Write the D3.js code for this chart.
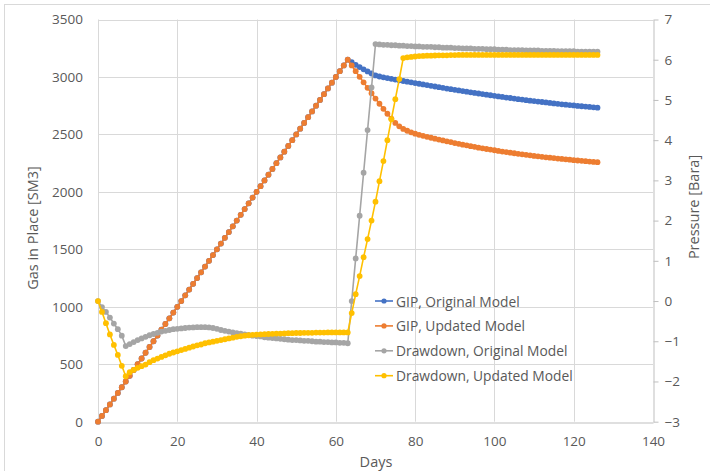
<!DOCTYPE html>
<html>
<head>
<meta charset="utf-8">
<script src="https://cdn.jsdelivr.net/npm/d3@7/dist/d3.min.js"></script>
<style>
  html, body { margin: 0; padding: 0; background: #fff; }
  svg { display: block; font-family: "Open Sans", "Liberation Sans", sans-serif; }
</style>
</head>
<body>
<svg id="chart" width="710" height="471"></svg>
<script>
// Day index shared by all four series
const days = d3.range(0, 127);

// Gas in place [SM3], original model
const gipOriginal = [
  0, 50, 100, 150, 200, 250, 300, 350, 400, 450,
  500, 550, 600, 650, 700, 750, 800, 850, 900, 950,
  1000, 1050, 1100, 1150, 1200, 1250, 1300, 1350, 1400, 1450,
  1500, 1550, 1600, 1650, 1700, 1750, 1800, 1850, 1900, 1950,
  2000, 2050, 2100, 2150, 2200, 2250, 2300, 2350, 2400, 2450,
  2500, 2550, 2600, 2650, 2700, 2750, 2800, 2850, 2900, 2950,
  3000, 3050, 3100, 3150, 3128, 3106, 3086, 3066, 3048, 3030,
  3013, 3004, 2997, 2990, 2984, 2977, 2971, 2965, 2959, 2953,
  2947, 2941, 2935, 2929, 2923, 2917, 2911, 2905, 2899, 2894,
  2888, 2883, 2877, 2872, 2866, 2861, 2856, 2851, 2846, 2841,
  2836, 2831, 2826, 2821, 2817, 2812, 2807, 2803, 2798, 2794,
  2790, 2786, 2782, 2778, 2774, 2770, 2766, 2762, 2759, 2755,
  2752, 2748, 2745, 2742, 2739, 2736, 2733
];

// Gas in place [SM3], updated model
const gipUpdated = [
  0, 50, 100, 150, 200, 250, 300, 350, 400, 450,
  500, 550, 600, 650, 700, 750, 800, 850, 900, 950,
  1000, 1050, 1100, 1150, 1200, 1250, 1300, 1350, 1400, 1450,
  1500, 1550, 1600, 1650, 1700, 1750, 1800, 1850, 1900, 1950,
  2000, 2050, 2100, 2150, 2200, 2250, 2300, 2350, 2400, 2450,
  2500, 2550, 2600, 2650, 2700, 2750, 2800, 2850, 2900, 2950,
  3000, 3050, 3100, 3150, 3100, 3050, 3001, 2953, 2905, 2858,
  2812, 2767, 2723, 2680, 2638, 2600, 2570, 2548, 2532, 2518,
  2506, 2496, 2488, 2479, 2471, 2463, 2455, 2448, 2440, 2433,
  2425, 2418, 2411, 2405, 2398, 2392, 2385, 2379, 2373, 2368,
  2362, 2356, 2351, 2346, 2341, 2336, 2331, 2327, 2322, 2318,
  2313, 2309, 2305, 2301, 2298, 2294, 2290, 2287, 2283, 2280,
  2276, 2273, 2270, 2267, 2264, 2261, 2258
];

// Drawdown pressure [Bara], original model
const ddOriginal = [
  0, -0.15, -0.27, -0.41, -0.56, -0.70, -0.86, -1.12, -1.07, -1.02,
  -0.97, -0.93, -0.89, -0.85, -0.82, -0.79, -0.76, -0.74, -0.72, -0.70,
  -0.69, -0.68, -0.67, -0.66, -0.655, -0.65, -0.65, -0.65, -0.655, -0.67,
  -0.69, -0.72, -0.74, -0.76, -0.78, -0.80, -0.81, -0.83, -0.84, -0.86,
  -0.87, -0.88, -0.90, -0.91, -0.92, -0.93, -0.94, -0.95, -0.96, -0.97,
  -0.97, -0.98, -0.99, -0.99, -1.00, -1.01, -1.01, -1.02, -1.02, -1.03,
  -1.03, -1.04, -1.04, -1.05, 0.00, 1.06, 2.12, 3.19, 4.25, 5.31,
  6.39, 6.38, 6.37, 6.37, 6.36, 6.36, 6.35, 6.35, 6.34, 6.34,
  6.33, 6.33, 6.32, 6.32, 6.32, 6.31, 6.31, 6.30, 6.30, 6.30,
  6.29, 6.29, 6.28, 6.28, 6.28, 6.27, 6.27, 6.27, 6.26, 6.26,
  6.26, 6.25, 6.25, 6.25, 6.24, 6.24, 6.24, 6.24, 6.23, 6.23,
  6.23, 6.23, 6.22, 6.22, 6.22, 6.22, 6.21, 6.21, 6.21, 6.21,
  6.21, 6.20, 6.20, 6.20, 6.20, 6.20, 6.20
];

// Drawdown pressure [Bara], updated model
const ddUpdated = [
  0, -0.27, -0.55, -0.83, -1.09, -1.34, -1.61, -1.87, -1.77, -1.71,
  -1.66, -1.62, -1.58, -1.52, -1.47, -1.43, -1.39, -1.35, -1.31, -1.28,
  -1.25, -1.22, -1.19, -1.16, -1.13, -1.10, -1.08, -1.05, -1.03, -1.01,
  -0.99, -0.97, -0.95, -0.93, -0.91, -0.89, -0.875, -0.86, -0.85, -0.84,
  -0.835, -0.83, -0.825, -0.82, -0.815, -0.81, -0.81, -0.805, -0.80, -0.80,
  -0.795, -0.795, -0.79, -0.79, -0.79, -0.785, -0.785, -0.785, -0.78, -0.78,
  -0.78, -0.78, -0.78, -0.78, -0.30, 0.17, 0.62, 1.09, 1.54, 2.00,
  2.47, 2.98, 3.48, 4.00, 4.52, 5.02, 5.52, 6.04, 6.06, 6.07,
  6.08, 6.09, 6.095, 6.10, 6.10, 6.105, 6.11, 6.11, 6.11, 6.115,
  6.115, 6.12, 6.12, 6.12, 6.12, 6.12, 6.12, 6.12, 6.12, 6.12,
  6.12, 6.12, 6.12, 6.12, 6.12, 6.12, 6.12, 6.12, 6.12, 6.12,
  6.12, 6.12, 6.12, 6.12, 6.12, 6.12, 6.12, 6.12, 6.12, 6.12,
  6.12, 6.12, 6.12, 6.12, 6.12, 6.12, 6.12
];

// Axis ticks
const xTicks = [0, 20, 40, 60, 80, 100, 120, 140];
const gipTicks = [0, 500, 1000, 1500, 2000, 2500, 3000, 3500];
const pressureTicks = [-3, -2, -1, 0, 1, 2, 3, 4, 5, 6, 7];

const seriesNames = [
  "GIP, Original Model",
  "GIP, Updated Model",
  "Drawdown, Original Model",
  "Drawdown, Updated Model"
];

const svg = d3.select("#chart");
const W = 710, H = 471;
const plot = { left: 98, right: 653, top: 19.5, bottom: 421.7 };
const textColor = "#595959";
const gridColor = "#d9d9d9";
const axisColor = "#bfbfbf";
const markerR = 2.9;

// Chart area frame
svg.append("rect")
  .attr("x", 4.5).attr("y", 4.5)
  .attr("width", W + 20).attr("height", H + 20)
  .attr("fill", "#fff").attr("stroke", gridColor).attr("stroke-width", 1);

const x = d3.scaleLinear().domain([0, 140]).range([plot.left, plot.right]);
const yL = d3.scaleLinear().domain([0, 3500]).range([plot.bottom, plot.top]);
const yR = d3.scaleLinear().domain([-3, 7]).range([plot.bottom, plot.top]);

// Gridlines
const grid = svg.append("g");
grid.selectAll("line.h").data(gipTicks.slice(1)).join("line")
  .attr("x1", plot.left).attr("x2", plot.right)
  .attr("y1", d => Math.round(yL(d)) + 0.5).attr("y2", d => Math.round(yL(d)) + 0.5)
  .attr("stroke", gridColor).attr("stroke-width", 1);
grid.selectAll("line.v").data(xTicks.slice(0, -1)).join("line")
  .attr("x1", d => Math.round(x(d)) + 0.5).attr("x2", d => Math.round(x(d)) + 0.5)
  .attr("y1", plot.top).attr("y2", plot.bottom)
  .attr("stroke", gridColor).attr("stroke-width", 1);

// Bottom axis
const xAxis = svg.append("g")
  .attr("transform", `translate(0,${Math.round(plot.bottom) + 0.5})`)
  .call(d3.axisBottom(x).tickValues(xTicks).tickSize(0).tickPadding(14).tickFormat(d3.format("d")));
xAxis.select(".domain").attr("stroke", axisColor);
xAxis.selectAll("text").attr("fill", textColor).style("font-size", "13.5px")
  .style("font-family", "'Open Sans', sans-serif");

// Left axis (labels only)
const yAxisL = svg.append("g")
  .attr("transform", `translate(${plot.left},0)`)
  .call(d3.axisLeft(yL).tickValues(gipTicks).tickSize(0).tickPadding(15).tickFormat(d3.format("d")));
yAxisL.select(".domain").remove();
yAxisL.selectAll("text").attr("fill", textColor).style("font-size", "13.5px")
  .style("font-family", "'Open Sans', sans-serif");

// Right axis with outward tick marks
const yAxisR = svg.append("g")
  .attr("transform", `translate(${Math.round(plot.right) + 0.5},0)`)
  .call(d3.axisRight(yR).tickValues(pressureTicks).tickSize(5).tickSizeOuter(0).tickPadding(6).tickFormat(d3.format("d")));
yAxisR.select(".domain").attr("stroke", axisColor);
yAxisR.selectAll(".tick line").attr("stroke", axisColor);
yAxisR.selectAll("text").attr("fill", textColor).style("font-size", "13.5px")
  .style("font-family", "'Open Sans', sans-serif");

// Axis titles
svg.append("text")
  .attr("transform", "translate(32,228) rotate(-90)")
  .attr("text-anchor", "middle").attr("dominant-baseline", "central")
  .attr("fill", textColor).style("font-size", "14.5px")
  .text("Gas in Place [SM3]");
svg.append("text")
  .attr("transform", "translate(693,207) rotate(-90)")
  .attr("text-anchor", "middle").attr("dominant-baseline", "central")
  .attr("fill", textColor).style("font-size", "14.5px")
  .text("Pressure [Bara]");
svg.append("text")
  .attr("x", 376).attr("y", 461)
  .attr("text-anchor", "middle").attr("dominant-baseline", "central")
  .attr("fill", textColor).style("font-size", "14.5px")
  .text("Days");

// Series
const series = [
  { name: seriesNames[0], values: gipOriginal, y: yL, color: "#4472c4" },
  { name: seriesNames[1], values: gipUpdated, y: yL, color: "#ed7d31" },
  { name: seriesNames[2], values: ddOriginal, y: yR, color: "#a5a5a5" },
  { name: seriesNames[3], values: ddUpdated, y: yR, color: "#ffc000" }
];

const marks = svg.append("g");
series.forEach(s => {
  const pts = days.map((d, i) => [d, s.values[i]]);
  const g = marks.append("g");
  g.append("path")
    .datum(pts)
    .attr("fill", "none")
    .attr("stroke", s.color)
    .attr("stroke-width", 1.6)
    .attr("stroke-linejoin", "round")
    .attr("d", d3.line().x(p => x(p[0])).y(p => s.y(p[1])));
  g.selectAll("circle").data(pts).join("circle")
    .attr("cx", p => x(p[0]))
    .attr("cy", p => s.y(p[1]))
    .attr("r", markerR)
    .attr("fill", s.color);
});

// Legend
const legend = svg.append("g");
const legendX = 375, legendY0 = 301, legendStep = 24.9;
series.forEach((s, i) => {
  const yy = legendY0 + i * legendStep;
  legend.append("line")
    .attr("x1", legendX).attr("x2", legendX + 18)
    .attr("y1", yy).attr("y2", yy)
    .attr("stroke", s.color).attr("stroke-width", 1.6);
  legend.append("circle")
    .attr("cx", legendX + 9).attr("cy", yy).attr("r", 2.6)
    .attr("fill", s.color);
  legend.append("text")
    .attr("x", legendX + 21).attr("y", yy)
    .attr("dominant-baseline", "central")
    .attr("fill", textColor).style("font-size", "13.8px")
    .text(s.name);
});
</script>
</body>
</html>
